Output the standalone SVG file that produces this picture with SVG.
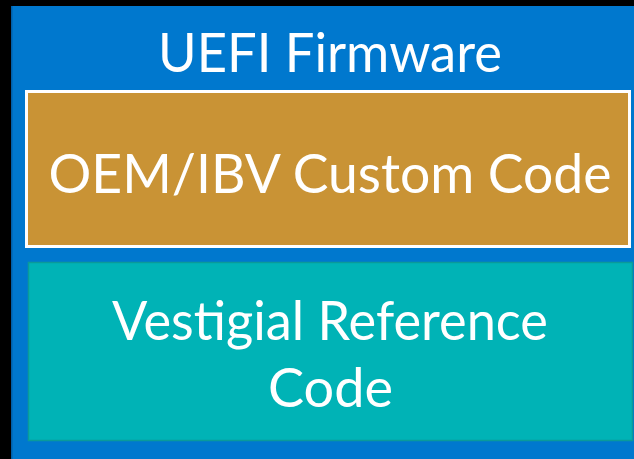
<svg xmlns="http://www.w3.org/2000/svg" width="634" height="459" viewBox="0 0 634 459">
  <style>
    .lbl { font-family: Lato, "Open Sans", "DejaVu Sans", sans-serif; fill: #ffffff; font-size: 54px; text-anchor: middle; }
  </style>
  <!-- page background -->
  <rect x="0" y="0" width="634" height="459" fill="#000000"/>
  <!-- firmware container -->
  <g id="uefi-firmware">
    <rect x="11" y="6" width="623" height="453" fill="#0078CE"/>
    <rect x="11" y="6" width="1.5" height="453" fill="#005FA8"/>
    <text class="lbl" x="330" y="72" textLength="344" lengthAdjust="spacingAndGlyphs">UEFI Firmware</text>
  </g>
  <!-- custom code block -->
  <g id="oem-ibv-custom-code">
    <rect x="26.5" y="91.5" width="603" height="155" fill="#C99335" stroke="#ffffff" stroke-width="3"/>
    <text class="lbl" x="330" y="193" textLength="563" lengthAdjust="spacingAndGlyphs">OEM/IBV Custom Code</text>
  </g>
  <!-- reference code block -->
  <g id="vestigial-reference-code">
    <rect x="28.5" y="262.5" width="604" height="178" fill="#00B3B6" stroke="#0A9A9A" stroke-width="1.5"/>
    <text class="lbl" x="330" y="340" textLength="436" lengthAdjust="spacingAndGlyphs">Vestigial Reference</text>
    <text class="lbl" x="330.5" y="407" textLength="125" lengthAdjust="spacingAndGlyphs">Code</text>
  </g>
</svg>
